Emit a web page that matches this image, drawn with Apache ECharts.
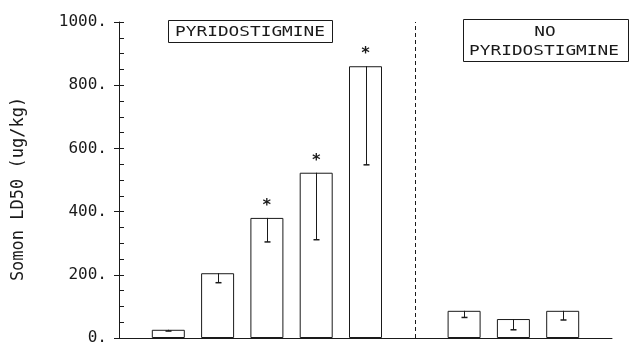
<!DOCTYPE html>
<html>
<head>
<meta charset="utf-8">
<script src="https://cdn.jsdelivr.net/npm/echarts@6/dist/echarts.min.js"></script>
<style>html,body{margin:0;padding:0;background:#fff;}#c{width:629px;height:346px;}</style>
</head>
<body>
<div id="c"></div>
<script>
// ---- data ----
const xPositions = [1, 2, 3, 4, 5, 7, 8, 9];
const ld50 = [26, 205, 380, 523, 860, 86, 60, 86];
const errLow = [4, 30, 76, 212, 312, 21, 34, 29];
const significant = [false, false, true, true, true, false, false, false];
const yTickLabels = ['0.', '200.', '400.', '600.', '800.', '1000.'];
const dividerX = 6;
const yName = 'Somon LD50 (ug/kg)';
const groupLabels = ['PYRIDOSTIGMINE', 'NO', 'PYRIDOSTIGMINE'];

const INK = '#1a1a1a';
const FONT = 'DejaVu Sans Mono';

const chart = echarts.init(document.getElementById('c'), null, {renderer: 'canvas'});

const barData = xPositions.map((x, i) => ({
  value: [x, ld50[i]],
  label: {show: significant[i]}
}));
const errData = xPositions.map((x, i) => [x, ld50[i], ld50[i] - errLow[i]]);

const option = {
  backgroundColor: '#fff',
  animation: false,
  grid: {left: 119, right: 17, top: 22, bottom: 6},
  xAxis: {
    type: 'value', min: 0, max: 10,
    axisLine: {show: true, lineStyle: {color: INK, width: 1}},
    axisTick: {show: false}, axisLabel: {show: false}, splitLine: {show: false}
  },
  yAxis: [{
    type: 'value', min: 0, max: 1000, interval: 200,
    name: yName, nameLocation: 'middle', nameGap: 92, nameRotate: 90,
    nameTextStyle: {fontFamily: FONT, fontSize: 17, color: INK, padding: [0, 18, 0, 0]},
    axisLine: {show: true, lineStyle: {color: INK, width: 1}},
    axisTick: {show: true, inside: false, length: 5, lineStyle: {color: INK}},
    axisLabel: {
      margin: 12, fontFamily: FONT, fontSize: 16, color: INK,
      formatter: v => yTickLabels[Math.round(v / 200)]
    },
    splitLine: {show: false}
  }, {
    type: 'value', min: 0, max: 1000, interval: 200, position: 'left',
    axisLine: {show: false},
    axisTick: {show: true, inside: true, length: 5, lineStyle: {color: INK}},
    minorTick: {show: true, splitNumber: 4, length: 5, lineStyle: {color: INK}},
    axisLabel: {show: false}, splitLine: {show: false}
  }],
  series: [{
    type: 'bar',
    data: barData,
    barWidth: 33,
    itemStyle: {color: '#fff', borderColor: INK, borderWidth: 1},
    label: {
      position: 'top', distance: 4, formatter: '*',
      fontFamily: FONT, fontSize: 16, fontWeight: 'bold', color: INK
    },
    markLine: {
      silent: true, symbol: 'none',
      label: {show: false},
      lineStyle: {color: INK, type: [4, 3], width: 1},
      data: [[{coord: [dividerX, 0]}, {coord: [dividerX, 1000]}]]
    },
    z: 2
  }, {
    type: 'custom',
    data: errData,
    z: 5,
    renderItem: function (params, api) {
      const top = api.coord([api.value(0), api.value(1)]);
      const bot = api.coord([api.value(0), api.value(2)]);
      const x = Math.round(top[0]) + 0.5;
      return {
        type: 'group',
        children: [
          {type: 'line', shape: {x1: x, y1: top[1], x2: x, y2: bot[1]}, style: {stroke: INK, lineWidth: 1}},
          {type: 'line', shape: {x1: x - 3, y1: bot[1], x2: x + 3, y2: bot[1]}, style: {stroke: INK, lineWidth: 1.5}}
        ]
      };
    }
  }],
  graphic: [
    {type: 'rect', shape: {x: 168.5, y: 20.5, width: 164, height: 22}, style: {fill: 'none', stroke: INK, lineWidth: 1}},
    {type: 'text', x: 250, y: 32, scaleX: 1.27,
     style: {text: groupLabels[0], font: '14px "' + FONT + '"', fill: INK, textAlign: 'center', textVerticalAlign: 'middle'}},
    {type: 'rect', shape: {x: 463.5, y: 19.5, width: 165, height: 42}, style: {fill: 'none', stroke: INK, lineWidth: 1}},
    {type: 'text', x: 545, y: 32, scaleX: 1.27,
     style: {text: groupLabels[1], font: '14px "' + FONT + '"', fill: INK, textAlign: 'center', textVerticalAlign: 'middle'}},
    {type: 'text', x: 544, y: 51, scaleX: 1.27,
     style: {text: groupLabels[2], font: '14px "' + FONT + '"', fill: INK, textAlign: 'center', textVerticalAlign: 'middle'}}
  ]
};
chart.setOption(option);
</script>
</body>
</html>
